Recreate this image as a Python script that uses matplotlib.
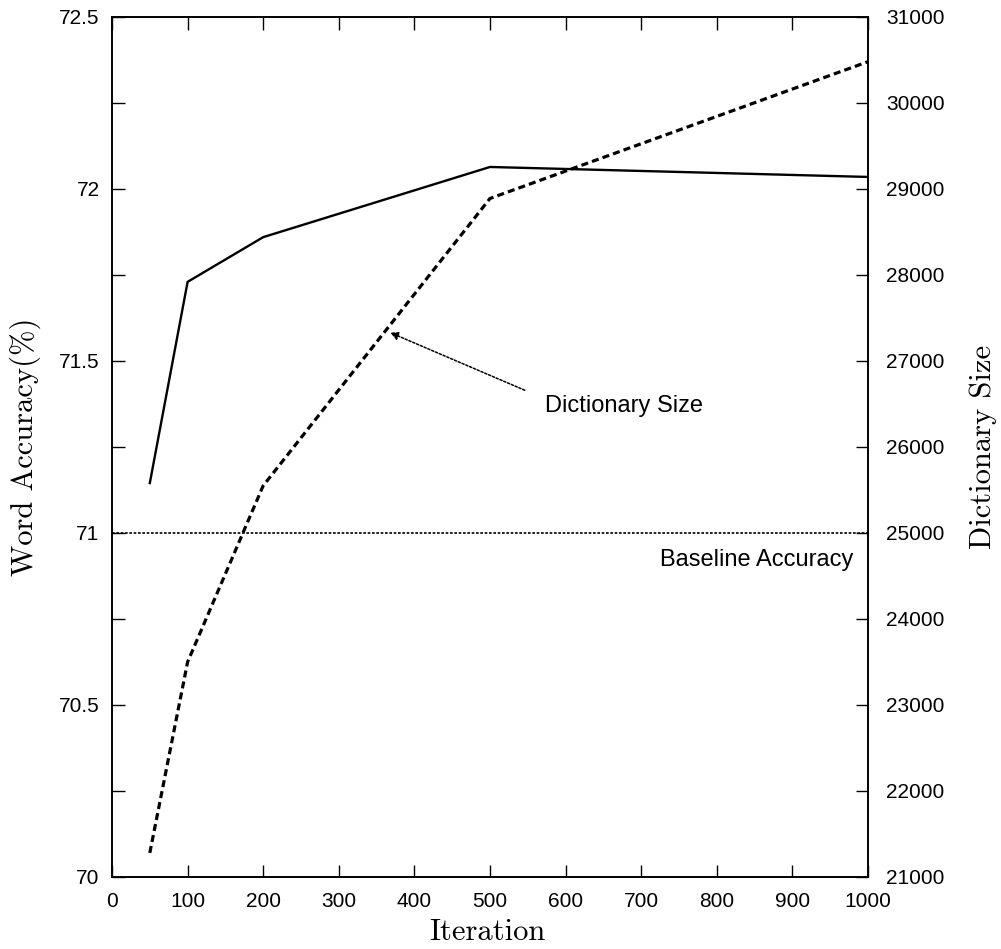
import matplotlib
matplotlib.use("Agg")
import matplotlib.pyplot as plt

# Data
iterations = [50, 100, 200, 500, 1000]
word_accuracy = [71.145, 71.73, 71.86, 72.064, 72.035]
dictionary_size = [21280, 23500, 25550, 28890, 30480]
baseline_accuracy = 71.0

x_ticks = [0, 100, 200, 300, 400, 500, 600, 700, 800, 900, 1000]
left_major = [70, 70.5, 71, 71.5, 72, 72.5]
left_labels = ["70", "70.5", "71", "71.5", "72", "72.5"]
left_minor = [70.25, 70.75, 71.25, 71.75, 72.25]
right_ticks = [21000, 22000, 23000, 24000, 25000, 26000, 27000, 28000, 29000, 30000, 31000]

sans = ["Liberation Sans", "DejaVu Sans"]
serif = ["cmr10", "DejaVu Serif"]

fig = plt.figure(figsize=(10.01, 9.49), dpi=100)
ax = fig.add_axes([0.1119, 0.0759, 0.7552, 0.9062])
ax2 = ax.twinx()

# Lines
ax.plot(iterations, word_accuracy, color="black", lw=1.7, solid_joinstyle="miter")
ax.axhline(baseline_accuracy, color="black", lw=1.2, linestyle=(0, (1.6, 1.0)))
ax2.plot(iterations, dictionary_size, color="black", lw=2.3, linestyle=(0, (2.2, 1.3)))

ax.set_xlim(0, 1000)
ax.set_ylim(70, 72.5)
ax2.set_ylim(21000, 31000)

ax.set_xticks(x_ticks)
ax.set_xticklabels([str(t) for t in x_ticks], fontfamily=sans, fontsize=15)
ax.set_yticks(left_major)
ax.set_yticklabels(left_labels, fontfamily=sans, fontsize=15)
ax.set_yticks(left_minor, minor=True)
ax2.set_yticks(right_ticks)
ax2.set_yticklabels([str(t) for t in right_ticks], fontfamily=sans, fontsize=15)

ax.tick_params(axis="x", which="both", direction="in", top=True, bottom=True,
               length=9, width=1.0, pad=11)
ax.tick_params(axis="y", which="both", direction="in", left=True, right=False,
               length=9, width=1.0, pad=9)
ax2.tick_params(axis="y", which="both", direction="in", right=True, left=False,
                length=9, width=1.0, pad=13)

for a in (ax, ax2):
    for s in a.spines.values():
        s.set_linewidth(1.2)

# Axis labels
ax.set_xlabel("Iteration", fontfamily=serif, fontsize=22, va="center")
ax.xaxis.set_label_coords(0.496, -0.064)
ax.set_ylabel("Word Accuracy(%)", fontfamily=serif, fontsize=22, va="center")
ax.yaxis.set_label_coords(-0.115, 0.5)
ax2.set_ylabel("Dictionary Size", fontfamily=serif, fontsize=22, va="center",
               rotation=90)
ax2.yaxis.set_label_coords(1.152, 0.5)

# Annotations
ax2.annotate("", xy=(368, 27330), xytext=(546, 26660),
             arrowprops=dict(arrowstyle="-|>", color="black", lw=1.1,
                             linestyle=(0, (1.5, 1.2)), mutation_scale=12,
                             shrinkA=0, shrinkB=0))
ax2.text(573, 26480, "Dictionary Size", fontfamily=sans, fontsize=17,
         ha="left", va="center")
ax.text(725, 70.92, "Baseline Accuracy", fontfamily=sans, fontsize=17,
        ha="left", va="center")

fig.savefig("out.png", dpi=100)
